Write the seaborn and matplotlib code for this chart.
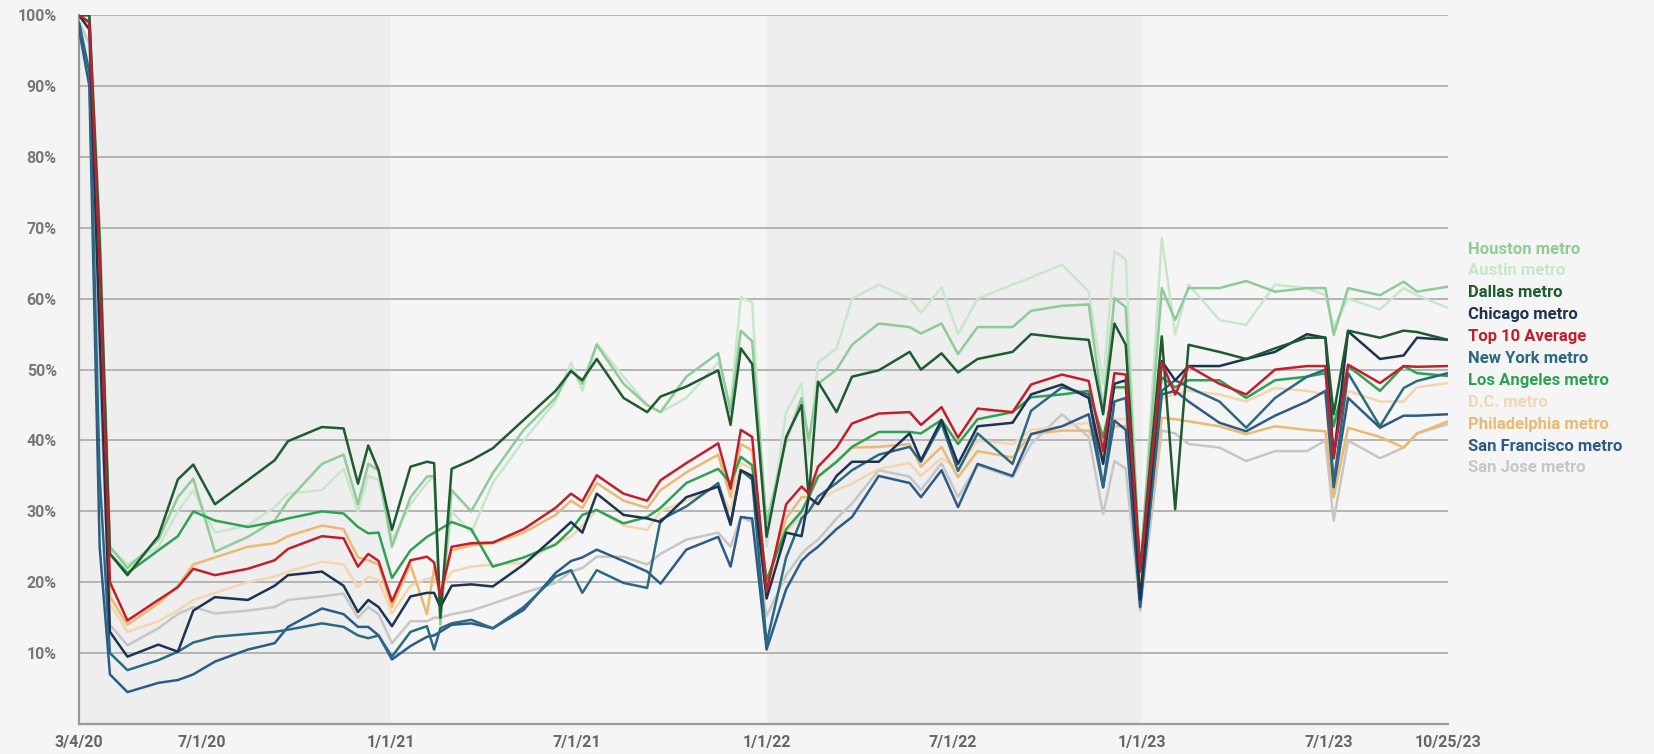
import matplotlib
matplotlib.use('Agg')
import matplotlib.pyplot as plt
import pandas as pd
import seaborn as sns

# fechas (eje x) y valores de ocupación (%)
dates = ['2020-03-04', '2020-03-14', '2020-03-24', '2020-04-03', '2020-04-20', '2020-05-20', '2020-06-08', '2020-06-23', '2020-07-14', '2020-08-15',
         '2020-09-10', '2020-09-23', '2020-10-26', '2020-11-16', '2020-11-30', '2020-12-10', '2020-12-20', '2021-01-02', '2021-01-20', '2021-02-05',
         '2021-02-12', '2021-02-18', '2021-03-01', '2021-03-20', '2021-04-10', '2021-05-10', '2021-06-10', '2021-06-25', '2021-07-06', '2021-07-20',
         '2021-08-15', '2021-09-07', '2021-09-20', '2021-10-15', '2021-11-15', '2021-11-27', '2021-12-07', '2021-12-18', '2022-01-01', '2022-01-20',
         '2022-02-04', '2022-02-11', '2022-02-20', '2022-03-10', '2022-03-25', '2022-04-20', '2022-05-20', '2022-05-31', '2022-06-20', '2022-07-06',
         '2022-07-25', '2022-08-28', '2022-09-15', '2022-10-15', '2022-11-10', '2022-11-24', '2022-12-05', '2022-12-16', '2022-12-30', '2023-01-20',
         '2023-02-02', '2023-02-15', '2023-03-17', '2023-04-12', '2023-05-10', '2023-06-10', '2023-06-28', '2023-07-06', '2023-07-20', '2023-08-20',
         '2023-09-12', '2023-09-25', '2023-10-25']

houston = [100, 100, 70, 25, 22.0, 26.0, 32.0, 34.6, 24.3, 26.4,
           28.7, 31.5, 36.7, 38.0, 31.0, 36.7, 35.8, 25.0, 32.0, 34.9,
           35.0, 14.0, 33.0, 30.0, 35.4, 41.5, 46.0, 50.0, 48.0, 53.5,
           48.0, 45.0, 44.0, 49.0, 52.3, 44.0, 55.5, 54.0, 28.3, 40.0,
           46.0, 40.0, 48.0, 50.0, 53.5, 56.5, 56.0, 55.1, 56.5, 52.2,
           56.0, 56.0, 58.3, 59.0, 59.2, 44.2, 60.1, 58.8, 22.0, 61.5,
           57.0, 61.5, 61.5, 62.5, 61.0, 61.5, 61.5, 54.9, 61.5, 60.5,
           62.4, 61.0, 61.7]
austin = [100, 100, 70, 25, 22.5, 25.0, 30.0, 33.0, 27.0, 28.0,
          30.6, 32.5, 33.0, 36.0, 30.0, 35.0, 34.5, 26.0, 31.0, 34.0,
          35.0, 16.0, 30.0, 27.0, 34.0, 40.0, 45.5, 51.0, 47.0, 53.7,
          49.0, 45.0, 44.0, 46.0, 51.0, 45.0, 60.2, 59.5, 25.0, 44.0,
          48.0, 38.0, 51.0, 53.0, 60.0, 62.0, 60.0, 58.0, 61.6, 55.0,
          60.0, 62.0, 63.0, 64.8, 61.0, 48.0, 66.7, 65.5, 20.0, 68.6,
          55.0, 62.0, 57.0, 56.3, 62.0, 61.5, 60.5, 56.0, 60.0, 58.5,
          61.5, 60.5, 58.7]
dallas = [100, 100, 68, 24, 21.0, 26.5, 34.5, 36.6, 31.0, 34.4,
          37.2, 39.9, 41.9, 41.7, 33.9, 39.3, 35.8, 27.4, 36.3, 37.0,
          36.8, 15.0, 36.0, 37.2, 38.9, 42.9, 47.0, 49.8, 48.5, 51.5,
          46.0, 44.0, 46.2, 47.6, 49.9, 42.2, 53.0, 50.8, 26.4, 40.5,
          45.0, 31.8, 48.3, 44.0, 49.0, 49.9, 52.5, 50.0, 52.3, 49.6,
          51.5, 52.5, 55.0, 54.5, 54.2, 43.7, 56.5, 53.5, 21.5, 54.7,
          30.3, 53.5, 52.5, 51.5, 53.0, 54.5, 54.5, 43.7, 55.5, 54.5,
          55.5, 55.3, 54.2]
chicago = [100, 98, 55, 13, 9.5, 11.2, 10.2, 16.0, 17.9, 17.5,
           19.5, 21.0, 21.5, 19.5, 15.8, 17.5, 16.5, 13.8, 18.0, 18.5,
           18.5, 16.5, 19.5, 19.7, 19.4, 22.5, 26.5, 28.5, 27.0, 32.5,
           29.5, 29.0, 28.5, 32.0, 33.5, 28.1, 35.8, 35.0, 17.7, 27.0,
           26.5, 32.0, 31.0, 35.0, 37.0, 37.0, 41.0, 37.2, 42.9, 36.7,
           42.0, 42.5, 46.5, 47.9, 46.0, 36.7, 48.0, 48.5, 17.5, 51.2,
           48.5, 50.5, 50.5, 51.5, 52.5, 55.0, 54.5, 37.5, 55.4, 51.5,
           52.0, 54.5, 54.2]
top10 = [100, 99, 65, 20, 14.6, 17.5, 19.3, 21.9, 21.0, 21.9,
         23.1, 24.7, 26.5, 26.2, 22.2, 24.0, 23.0, 17.3, 23.1, 23.6,
         22.8, 18.0, 25.0, 25.5, 25.6, 27.5, 30.5, 32.5, 31.4, 35.1,
         32.5, 31.5, 34.4, 36.8, 39.6, 33.2, 41.5, 40.5, 18.7, 31.0,
         33.5, 32.5, 36.3, 39.0, 42.4, 43.8, 44.0, 42.2, 44.7, 40.4,
         44.5, 44.0, 47.9, 49.3, 48.4, 38.5, 49.5, 49.3, 21.6, 51.0,
         46.5, 50.5, 48.0, 46.5, 50.0, 50.5, 50.5, 37.6, 50.7, 48.1,
         50.5, 50.4, 50.5]
new_york = [99, 92, 35, 10, 7.6, 9.0, 10.2, 11.5, 12.3, 12.7,
            13.0, 13.3, 14.2, 13.7, 12.5, 12.1, 12.5, 9.5, 13.0, 13.8,
            10.5, 13.5, 14.2, 14.7, 13.5, 16.5, 20.8, 21.7, 18.5, 21.7,
            19.9, 19.2, 28.8, 30.7, 34.0, 28.3, 35.8, 34.5, 11.4, 23.5,
            29.0, 30.0, 32.1, 34.0, 35.8, 38.0, 39.1, 37.0, 42.4, 35.7,
            41.0, 36.7, 44.2, 47.5, 46.5, 33.4, 45.5, 46.0, 16.9, 47.0,
            48.5, 47.5, 45.5, 41.8, 46.0, 49.0, 50.0, 34.0, 49.5, 42.0,
            47.4, 48.4, 49.5]
los_angeles = [100, 99, 66, 24, 21.3, 24.5, 26.5, 30.0, 28.7, 27.8,
               28.5, 29.0, 30.0, 29.7, 27.8, 26.9, 27.0, 20.6, 24.5, 26.4,
               27.0, 27.5, 28.5, 27.5, 22.2, 23.5, 25.3, 27.4, 29.5, 30.2,
               28.3, 29.2, 30.5, 34.0, 36.0, 34.0, 37.7, 36.5, 20.3, 27.5,
               30.0, 32.0, 34.9, 37.0, 39.1, 41.2, 41.2, 41.0, 42.9, 39.5,
               43.0, 44.0, 46.1, 46.5, 47.0, 40.4, 47.5, 47.5, 22.0, 48.9,
               47.5, 48.5, 48.5, 46.0, 48.5, 49.0, 49.5, 42.0, 50.5, 47.0,
               50.5, 49.5, 49.1]
dc = [100, 99, 60, 17, 13.0, 14.5, 16.0, 17.5, 18.5, 20.0,
      20.8, 21.5, 22.9, 22.5, 19.3, 20.8, 20.3, 15.6, 19.5, 20.5,
      20.5, 19.0, 21.5, 22.2, 22.5, 22.7, 25.5, 26.4, 28.0, 30.2,
      28.0, 27.4, 30.0, 31.5, 33.5, 30.0, 36.8, 36.0, 19.5, 27.0,
      29.5, 30.0, 31.5, 33.0, 33.9, 36.0, 36.8, 35.0, 37.5, 36.0,
      40.0, 39.5, 41.5, 42.0, 42.5, 37.0, 43.0, 43.0, 20.0, 46.0,
      46.5, 47.0, 46.5, 45.5, 47.4, 47.0, 46.5, 32.0, 47.0, 45.5,
      45.5, 47.5, 48.1]
philadelphia = [100, 99, 62, 18, 14.0, 17.0, 19.5, 22.5, 23.5, 25.0,
                25.5, 26.5, 28.0, 27.5, 23.5, 23.1, 22.5, 16.5, 22.5, 15.5,
                22.0, 18.5, 24.5, 25.2, 25.5, 27.0, 29.5, 31.5, 30.5, 34.0,
                31.5, 30.5, 33.0, 35.5, 38.0, 32.0, 39.5, 38.6, 20.0, 29.0,
                32.0, 32.0, 34.9, 37.0, 39.0, 39.1, 39.5, 36.3, 39.1, 34.8,
                38.5, 37.6, 40.9, 41.4, 41.4, 38.0, 42.0, 42.0, 19.5, 43.2,
                43.0, 42.7, 42.0, 40.9, 42.0, 41.5, 41.3, 32.0, 41.8, 40.5,
                39.0, 41.0, 42.7]
san_francisco = [98, 90, 25, 7, 4.5, 5.8, 6.2, 7.0, 8.8, 10.5,
                 11.4, 13.7, 16.3, 15.5, 13.7, 13.7, 12.5, 9.1, 11.0, 12.3,
                 12.5, 13.0, 14.0, 14.2, 13.5, 16.1, 21.3, 23.0, 23.5, 24.6,
                 23.0, 21.5, 19.8, 24.6, 26.4, 22.2, 29.2, 29.0, 10.5, 19.0,
                 23.0, 24.0, 25.0, 27.5, 29.2, 35.0, 34.0, 32.0, 35.8, 30.6,
                 36.7, 35.0, 40.9, 42.0, 43.7, 33.4, 42.8, 41.5, 16.5, 46.5,
                 47.0, 45.5, 42.5, 41.3, 43.5, 45.5, 47.0, 33.4, 46.0, 41.8,
                 43.5, 43.5, 43.7]
san_jose = [99, 96, 50, 14, 11.1, 13.5, 15.5, 16.5, 15.6, 16.0,
            16.5, 17.5, 18.0, 18.4, 15.0, 16.5, 15.5, 11.4, 14.5, 14.5,
            15.0, 15.0, 15.5, 16.0, 17.0, 18.5, 19.9, 21.5, 22.0, 23.6,
            23.6, 22.5, 24.0, 26.0, 27.0, 25.0, 29.2, 28.5, 15.2, 21.0,
            24.0, 25.0, 26.0, 29.0, 31.1, 35.8, 34.9, 33.0, 36.8, 32.0,
            36.5, 34.8, 39.5, 43.7, 40.5, 29.6, 37.1, 36.0, 16.0, 41.4,
            41.0, 39.5, 39.0, 37.1, 38.5, 38.5, 40.0, 28.7, 40.0, 37.5,
            39.0, 41.0, 42.3]

# ordem da legenda (de cima para baixo)
names = ['Houston metro', 'Austin metro', 'Dallas metro', 'Chicago metro', 'Top 10 Average',
         'New York metro', 'Los Angeles metro', 'D.C. metro', 'Philadelphia metro',
         'San Francisco metro', 'San Jose metro']
values = [houston, austin, dallas, chicago, top10, new_york, los_angeles, dc,
          philadelphia, san_francisco, san_jose]
colors = ['#8ecb97', '#c9e6cd', '#1f5a30', '#1c3452', '#c21f2b', '#2a6a80',
          '#2ea254', '#f3d6b0', '#e9ba70', '#2d5b88', '#c6c6c6']

x_ticks = ['2020-03-04', '2020-07-01', '2021-01-01', '2021-07-01', '2022-01-01',
           '2022-07-01', '2023-01-01', '2023-07-01', '2023-10-25']
x_labels = ['3/4/20', '7/1/20', '1/1/21', '7/1/21', '1/1/22', '7/1/22', '1/1/23', '7/1/23', '10/25/23']

frames = []
for name, vals in zip(names, values):
    frames.append(pd.DataFrame({'date': pd.to_datetime(dates), 'value': vals, 'series': name}))
df = pd.concat(frames, ignore_index=True)

sns.set_style('white')
plt.rcParams['font.family'] = ['Roboto', 'DejaVu Sans']

bg = '#f5f5f5'
fig = plt.figure(figsize=(16.54, 7.54), dpi=100, facecolor=bg)
ax = fig.add_axes([0.0478, 0.0398, 0.8276, 0.940])
ax.set_facecolor(bg)

# faixas alternadas por ano
for a, b in [('2020-03-04', '2021-01-01'), ('2022-01-01', '2023-01-01')]:
    ax.axvspan(pd.Timestamp(a), pd.Timestamp(b), color='#eeeeee', lw=0, zorder=0)

# desenhar das mais claras para as mais escuras
draw_order = ['San Jose metro', 'D.C. metro', 'Austin metro', 'Houston metro', 'Philadelphia metro',
              'Los Angeles metro', 'San Francisco metro', 'New York metro', 'Chicago metro',
              'Dallas metro', 'Top 10 Average']
palette = dict(zip(names, colors))
sns.lineplot(data=df, x='date', y='value', hue='series', hue_order=draw_order, palette=palette,
             linewidth=1.8, legend=False, ax=ax, zorder=3)

ax.set_xlim(pd.Timestamp('2020-03-04'), pd.Timestamp('2023-10-25'))
ax.set_ylim(0, 100)
ax.set_yticks(range(10, 101, 10))
ax.set_yticklabels([f'{v}%' for v in range(10, 101, 10)], fontsize=11.5, fontweight='bold', color='#777777')
ax.set_xticks(pd.to_datetime(x_ticks))
ax.set_xticklabels(x_labels, fontsize=11.5, fontweight='bold', color='#666666',
                   family=['Liberation Sans Narrow', 'Roboto', 'DejaVu Sans'])
ax.tick_params(axis='y', length=0, pad=16)
ax.tick_params(axis='x', length=6, width=1.6, color='#999999', pad=2)
ax.set_xlabel('')
ax.set_ylabel('')

ax.grid(axis='y', color='#b4b4b4', linewidth=1.4)
ax.grid(axis='x', visible=False)
ax.set_axisbelow(True)
for s in ['top', 'right']:
    ax.spines[s].set_visible(False)
for s in ['left', 'bottom']:
    ax.spines[s].set_color('#999999')
    ax.spines[s].set_linewidth(1.6)

# rótulos da legenda à direita
for i, (name, c) in enumerate(zip(names, colors)):
    fig.text(1468 / 1654, 1 - (249 + i * 21.9) / 754, name, color=c, fontsize=12,
             fontweight='bold', va='center', ha='left')

fig.savefig('out.png', dpi=100, facecolor=bg)
